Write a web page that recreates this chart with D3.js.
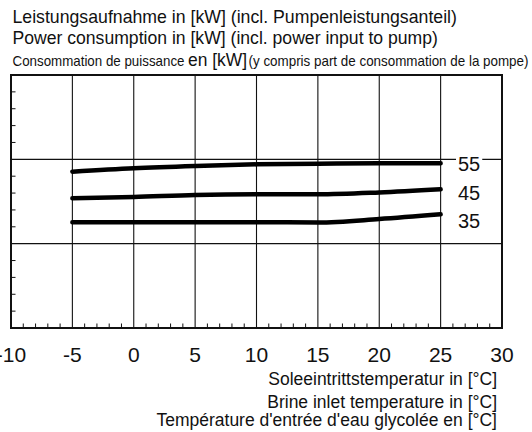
<!DOCTYPE html>
<html><head><meta charset="utf-8">
<script src="https://cdn.jsdelivr.net/npm/d3@7"></script>
<style>body{margin:0;background:#fff}svg{display:block}text{font-family:"Liberation Sans",Arial,sans-serif;fill:#111}</style>
</head><body><svg id="c" width="532" height="432"></svg>
<script>
const temps = [-5, 0, 5, 10, 15, 20, 25];
const series55 = [1.853, 1.894, 1.921, 1.941, 1.949, 1.953, 1.953];
const series45 = [1.538, 1.553, 1.577, 1.585, 1.585, 1.607, 1.645];
const series35 = [1.253, 1.253, 1.253, 1.253, 1.252, 1.292, 1.348];
const seriesNames = ["55", "45", "35"];
const xTicks = [-10, -5, 0, 5, 10, 15, 20, 25, 30];
const yGrid = [1, 2];
const titleLines = ["Leistungsaufnahme in [kW] (incl. Pumpenleistungsanteil)", "Power consumption in [kW] (incl. power input to pump)"];
const titleFr = ["Consommation de puissance", "en [kW]", "(y compris part de consommation de la pompe)"];
const xTitles = ["Soleeintrittstemperatur in [°C]", "Brine inlet temperature in [°C]", "Température d'entrée d'eau glycolée en [°C]"];

const svg = d3.select("#c");
const L = 11, R = 502, T = 75, B = 328;
const x = d3.scaleLinear().domain([-10, 30]).range([L, R]);
const y = d3.scaleLinear().domain([0, 3]).range([B, T]);

// titles
svg.append("text").attr("x", 12.5).attr("y", 23.3).attr("font-size", 17.7).text(titleLines[0]);
svg.append("text").attr("x", 12.5).attr("y", 44.3).attr("font-size", 17.6).text(titleLines[1]);
const frX = [12.5, 188, 248.5], frW = [172, 59, 280], frS = [15, 17.6, 15];
titleFr.forEach((t, i) => {
  svg.append("text").attr("x", frX[i]).attr("y", 65.5).attr("font-size", frS[i])
    .attr("textLength", frW[i]).attr("lengthAdjust", "spacingAndGlyphs").text(t);
});

// grid
const g = svg.append("g");
g.selectAll(".vg").data(xTicks.slice(1, -1)).join("line")
  .attr("x1", d => x(d)).attr("x2", d => x(d)).attr("y1", T).attr("y2", B)
  .attr("stroke", "#111").attr("stroke-width", 1.1);
g.selectAll(".hg").data(yGrid).join("line")
  .attr("x1", L).attr("x2", R).attr("y1", d => y(d)).attr("y2", d => y(d))
  .attr("stroke", "#111").attr("stroke-width", 1.1);

// minor ticks
const xMinor = d3.range(-10, 31, 1).filter(v => v % 5 !== 0);
g.selectAll(".xm").data(xMinor).join("line")
  .attr("x1", d => x(d)).attr("x2", d => x(d)).attr("y1", B).attr("y2", B - 4.5)
  .attr("stroke", "#111").attr("stroke-width", 1);
const yMinor = d3.range(0, 3.001, 0.2).filter(v => Math.abs(v - Math.round(v)) > 0.01);
g.selectAll(".ym").data(yMinor).join("line")
  .attr("x1", L).attr("x2", L + 4.5).attr("y1", d => y(d)).attr("y2", d => y(d))
  .attr("stroke", "#111").attr("stroke-width", 1);

// frame
svg.append("rect").attr("x", L).attr("y", T).attr("width", R - L).attr("height", B - T)
  .attr("fill", "none").attr("stroke", "#111").attr("stroke-width", 2);

// curves
const allSeries = [series55, series45, series35];
const line = d3.line().x((d, i) => x(temps[i])).y(d => y(d)).curve(d3.curveMonotoneX);
svg.selectAll(".curve").data(allSeries).join("path")
  .attr("d", d => line(d)).attr("fill", "none").attr("stroke", "#000")
  .attr("stroke-width", 4.5).attr("stroke-linecap", "round").attr("stroke-linejoin", "round");

// series labels
const labelY = [163.5, 192.5, 220.5];
seriesNames.forEach((n, i) => {
  const t = svg.append("text").attr("x", 458).attr("y", labelY[i]).attr("dy", "0.36em")
    .attr("font-size", 20).text(n);
  const bb = t.node().getBBox();
  svg.insert("rect", "text:last-of-type").attr("x", bb.x - 2).attr("y", bb.y + 3).attr("width", bb.width + 4).attr("height", bb.height - 6).attr("fill", "#fff");
});

// x tick labels
svg.selectAll(".xl").data(xTicks).join("text")
  .attr("x", d => x(d)).attr("y", 361.5).attr("text-anchor", "middle")
  .attr("font-size", 21).text(d => d);

// x titles
const xtY = [384.5, 407.5, 426];
xTitles.forEach((t, i) => {
  svg.append("text").attr("x", 497).attr("y", xtY[i]).attr("text-anchor", "end")
    .attr("font-size", 17.5).text(t);
});
</script></body></html>
